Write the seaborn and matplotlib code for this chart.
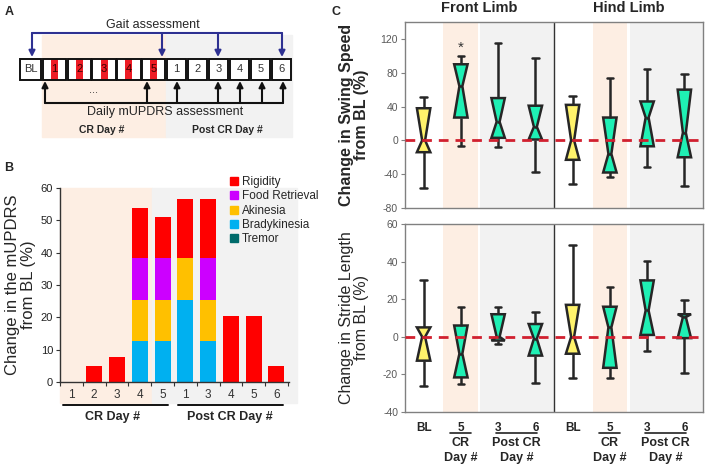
import numpy as np
import pandas as pd
import matplotlib
matplotlib.use("Agg")
import matplotlib.pyplot as plt
import matplotlib.transforms as mtransforms
from matplotlib.patches import Rectangle, PathPatch
from matplotlib.path import Path
from matplotlib.lines import Line2D
import seaborn as sns

sns.set_style("white")
plt.rcParams['font.family'] = ['Liberation Sans', 'DejaVu Sans']
plt.rcParams['axes.unicode_minus'] = False

# ---- panel A (timeline) ----
a_cr_days = ["1", "2", "3", "4", "5"]
a_post_days = ["1", "2", "3", "4", "5", "6"]

# ---- panel B data (change in mUPDRS, %) ----
b_slots = ["CR1", "CR2", "CR3", "CR4", "CR5", "P1", "P3", "P4", "P5", "P6"]
b_day_labels = ["1", "2", "3", "4", "5", "1", "3", "4", "5", "6"]
rigidity = [0, 5.1, 7.7, 15.6, 12.9, 18.4, 18.4, 20.5, 20.5, 5.1]
food_retrieval = [0, 0, 0, 12.8, 12.8, 0, 12.8, 0, 0, 0]
akinesia = [0, 0, 0, 12.8, 12.8, 12.8, 12.8, 0, 0, 0]
bradykinesia = [0, 0, 0, 12.6, 12.6, 25.5, 12.6, 0, 0, 0]
tremor = [0, 0, 0, 0, 0, 0, 0, 0, 0, 0]

# ---- panel C data (box summaries: min, q1, median, q3, max) ----
c_groups = ["F-BL", "F-CR5", "F-P3", "F-P6", "H-BL", "H-CR5", "H-P3", "H-P6"]
c_ticklabels = ["BL", "5", "3", "6", "BL", "5", "3", "6"]

swing_lo = [-56, -7, -8, -37, -52, -43, -31, -54]
swing_q1 = [-14, 27, 3, 1, -23, -38, -7, -20]
swing_med = [0, 64, 22, 16, 0, -16, 27, 9]
swing_q3 = [38, 90, 50, 41, 42, 27, 46, 60]
swing_hi = [51, 100, 115, 98, 52, 74, 84, 78]

stride_lo = [-26, -25, -4, -24.5, -22, -22, -7.5, -19]
stride_q1 = [-12.7, -21.6, -2, -10, -9, -16.5, 1, -0.7]
stride_med = [0, -9, 0, -1, 0, 5, 14, 10.5]
stride_q3 = [5, 6, 12, 6.8, 17, 16, 30, 12]
stride_hi = [30, 16, 16, 13, 49, 26.4, 40.4, 19.5]

yellow = "#fff36b"
teal = "#1ff0b4"
box_colors = dict(zip(c_groups, [yellow, teal, teal, teal, yellow, teal, teal, teal]))

cr_shade = "#fdeee3"
post_shade = "#f2f2f2"
blue = "#2e3192"

W, H = 708, 470


def rect(x0, y0, x1, y1):
    return [x0 / W, 1 - y1 / H, (x1 - x0) / W, (y1 - y0) / H]


fig = plt.figure(figsize=(7.08, 4.70), dpi=100)
ov = fig.add_axes([0, 0, 1, 1])
ov.set_xlim(0, W)
ov.set_ylim(H, 0)
ov.axis("off")

# ================= Panel A =================
ov.text(5, 12, "A", fontsize=9, fontweight="bold", va="center")
ov.text(332, 12, "C", fontsize=9, fontweight="bold", va="center")
ov.text(4, 168, "B", fontsize=9, fontweight="bold", va="center")

ov.add_patch(Rectangle((42, 35), 124, 102, color=cr_shade, zorder=0))
ov.add_patch(Rectangle((166, 35), 126, 102, color=post_shade, zorder=0))

ov.text(153, 25, "Gait assessment", fontsize=9, ha="center", va="center")
ov.plot([32, 282], [33, 33], color=blue, lw=1.5)

box_top, box_bot = 59, 80
# BL box
ov.add_patch(Rectangle((20, box_top), 21, box_bot - box_top, fc="white", ec="#111", lw=1.4, zorder=2))
ov.text(30.5, 69.5, "BL", fontsize=8, ha="center", va="center", color="#333", zorder=3)
cr_edges = np.linspace(42, 166, len(a_cr_days) + 1)
for i, d in enumerate(a_cr_days):
    x0, x1 = cr_edges[i] + 0.7, cr_edges[i + 1] - 0.7
    cx = (x0 + x1) / 2
    ov.add_patch(Rectangle((x0, box_top), x1 - x0, box_bot - box_top, fc="white", ec="none", zorder=1))
    ov.add_patch(Rectangle((cx - 3.5, box_top), 7, box_bot - box_top, fc="#ee1c25", ec="none", zorder=1.5))
    ov.add_patch(Rectangle((x0, box_top), x1 - x0, box_bot - box_top, fill=False, ec="#111", lw=1.4, zorder=2))
    ov.text(cx, 69.5, d, fontsize=8, ha="center", va="center", color="#3a0000", zorder=3)
post_edges = np.linspace(166, 292, len(a_post_days) + 1)
for i, d in enumerate(a_post_days):
    x0, x1 = post_edges[i] + 0.7, post_edges[i + 1] - 0.7
    cx = (x0 + x1) / 2
    ov.add_patch(Rectangle((x0, box_top), x1 - x0, box_bot - box_top, fc="white", ec="#111", lw=1.4, zorder=2))
    ov.text(cx, 69.5, d, fontsize=8, ha="center", va="center", color="#333", zorder=3)

for x in [32, 162, 218, 282]:
    ov.annotate("", xy=(x, 57), xytext=(x, 33),
                arrowprops=dict(arrowstyle="-|>", color=blue, lw=1.5, mutation_scale=9, shrinkA=0, shrinkB=0))
for x in [45, 147, 177, 218, 240, 262, 283]:
    ov.annotate("", xy=(x, 81), xytext=(x, 103),
                arrowprops=dict(arrowstyle="-|>", color="#111", lw=1.5, mutation_scale=9, shrinkA=0, shrinkB=0))
ov.plot([45, 283], [103, 103], color="#111", lw=1.5)
ov.text(93, 90, "...", fontsize=8, ha="center", va="center", color="#333")
ov.text(165, 112, "Daily mUPDRS assessment", fontsize=9, ha="center", va="center")
ov.text(102, 130, "CR Day #", fontsize=7.5, fontweight="bold", ha="center", va="center")
ov.text(227, 130, "Post CR Day #", fontsize=7.5, fontweight="bold", ha="center", va="center")

# ================= Panel B =================
axB = fig.add_axes(rect(60, 188, 289, 382))
axB.set_facecolor("none")
transB = mtransforms.blended_transform_factory(axB.transData, axB.transAxes)
axB.add_patch(Rectangle((-0.5, -0.108), 4.03, 1.108, transform=transB, color=cr_shade, clip_on=False, zorder=0))
axB.add_patch(Rectangle((3.53, -0.108), 6.37, 1.108, transform=transB, color=post_shade, clip_on=False, zorder=0))

layers = [("Tremor", tremor, "#006b6b"), ("Bradykinesia", bradykinesia, "#00b0f0"),
          ("Akinesia", akinesia, "#ffc000"), ("Food Retrieval", food_retrieval, "#cc00ff"),
          ("Rigidity", rigidity, "#ff0000")]
cum = np.cumsum([np.array(v, dtype=float) for _, v, _ in layers], axis=0)
for k in range(len(layers) - 1, -1, -1):
    sns.barplot(x=b_slots, y=cum[k], order=b_slots, color=layers[k][2], saturation=1,
                width=0.7, errorbar=None, linewidth=0, ax=axB, zorder=2)

axB.set_xlim(-0.5, 9.55)
axB.set_ylim(0, 60)
axB.set_yticks(range(0, 61, 10))
axB.set_xticks(range(len(b_slots)), b_day_labels)
axB.set_xticks(np.arange(-0.5, 9.6, 1), minor=True)
axB.tick_params(axis="x", which="major", length=0, pad=5, labelsize=8.5, labelcolor="#333")
axB.tick_params(axis="x", which="minor", length=3, width=0.8, color="#333", direction="out", bottom=True)
axB.tick_params(axis="y", length=3, width=0.8, color="#333", labelsize=8, labelcolor="#222", left=True, pad=2)
for s in ["top", "right"]:
    axB.spines[s].set_visible(False)
for s in ["left", "bottom"]:
    axB.spines[s].set_color("#333")
    axB.spines[s].set_linewidth(1)
axB.set_xlabel("")
axB.set_ylabel("Change in the mUPDRS\nfrom BL (%)", fontsize=12, linespacing=1.1)
axB.yaxis.set_label_coords(-0.105, 0.5)

axB.plot([-0.36, 4.25], [-0.119, -0.119], transform=transB, clip_on=False, color="#111", lw=1.4)
axB.plot([4.68, 9.29], [-0.119, -0.119], transform=transB, clip_on=False, color="#111", lw=1.4)
axB.text(1.79, -0.18, "CR Day #", transform=transB, ha="center", va="center", fontsize=9, fontweight="bold")
axB.text(6.97, -0.18, "Post CR Day #", transform=transB, ha="center", va="center", fontsize=9, fontweight="bold")

handles = [Line2D([], [], marker="s", ls="none", color=c, markersize=6) for _, _, c in layers[::-1]]
labels = [n for n, _, _ in layers[::-1]]
fig.legend(handles, labels, loc="upper left", bbox_to_anchor=(230 / W, 1 - 176 / H), frameon=False,
           fontsize=8.5, handlelength=0.7, handletextpad=0.3, labelspacing=0.2, borderaxespad=0, borderpad=0)


# ================= Panel C =================
def draw_boxes(ax, lo, q1, med, q3, hi):
    vals = np.column_stack([lo, q1, med, q3, hi]).ravel()
    df = pd.DataFrame({"group": np.repeat(c_groups, 5), "value": vals})
    sns.boxplot(data=df, x="group", y="value", hue="group", order=c_groups, hue_order=c_groups,
                palette=box_colors, saturation=1, width=0.36, linewidth=1.8, linecolor="#262626",
                notch=True, whis=(0, 100), legend=False, ax=ax)
    # hourglass-shaped notches that reach the quartiles
    for p in ax.patches:
        if not isinstance(p, PathPatch):
            continue
        v = p.get_path().vertices.copy()
        if len(v) < 11:
            continue
        qa, mv, qb = v[0, 1], v[3, 1], v[5, 1]
        left, right = v[0, 0], v[1, 0]
        pos, half = (left + right) / 2, (right - left) / 2
        v[2, 1] = qa
        v[9, 1] = qa
        v[4, 1] = qb
        v[7, 1] = qb
        v[3, 0] = pos + 0.22 * half
        v[8, 0] = pos - 0.22 * half
        p.set_path(Path(v, p.get_path().codes))
        for ln in ax.lines:
            xd, yd = np.asarray(ln.get_xdata(), float), np.asarray(ln.get_ydata(), float)
            if len(xd) == 2 and np.allclose(yd, mv) and xd.min() >= left - 1e-6 and xd.max() <= right + 1e-6:
                ln.set_xdata([pos - 0.22 * half, pos + 0.22 * half])
    for a, b, c in [(0.52, 1.45, cr_shade), (1.5, 3.5, post_shade), (4.55, 5.45, cr_shade), (5.55, 7.5, post_shade)]:
        ax.axvspan(a, b, color=c, zorder=0, lw=0)
    ax.axvline(3.5, color="#333", lw=1, zorder=1)
    ax.axhline(0, color="#d1202f", lw=2, ls=(0, (3.5, 2.5)), zorder=3)
    ax.set_xlim(-0.5, 7.5)
    ax.set_xlabel("")
    for s in ax.spines.values():
        s.set_color("#808080")
        s.set_linewidth(1)
    ax.tick_params(axis="y", length=3, width=0.8, color="#808080", labelsize=7.5, labelcolor="#595959", left=True, pad=2)


axT = fig.add_axes(rect(405, 22, 703, 208))
draw_boxes(axT, swing_lo, swing_q1, swing_med, swing_q3, swing_hi)
axT.set_ylim(-80, 140)
axT.set_yticks(range(-80, 121, 40))
axT.set_xticks([])
axT.set_ylabel("Change in Swing Speed\nfrom BL (%)", fontsize=11.5, fontweight="bold", linespacing=1.05)
axT.yaxis.set_label_coords(-0.12, 0.5)
axT.text(1, 110, "*", ha="center", va="center", fontsize=11, color="#333")
transT = mtransforms.blended_transform_factory(axT.transData, axT.transAxes)
axT.text(1.5, 1.075, "Front Limb", transform=transT, ha="center", va="center", fontsize=10.5, fontweight="bold")
axT.text(5.5, 1.075, "Hind Limb", transform=transT, ha="center", va="center", fontsize=10.5, fontweight="bold")

axS = fig.add_axes(rect(405, 224, 703, 412))
draw_boxes(axS, stride_lo, stride_q1, stride_med, stride_q3, stride_hi)
axS.set_ylim(-40, 60)
axS.set_yticks(range(-40, 61, 20))
axS.set_xticks(range(len(c_groups)), c_ticklabels)
axS.tick_params(axis="x", length=0, pad=7, labelsize=8.5)
for t in axS.get_xticklabels():
    t.set_fontweight("bold")
axS.set_ylabel("Change in Stride Length\nfrom BL (%)", fontsize=11.5, linespacing=1.05)
axS.yaxis.set_label_coords(-0.12, 0.5)

transS = mtransforms.blended_transform_factory(axS.transData, axS.transAxes)
for cx, hw, txt in [(1, 0.28, "CR\nDay #"), (2.5, 0.55, "Post CR\nDay #"),
                    (5, 0.28, "CR\nDay #"), (6.5, 0.55, "Post CR\nDay #")]:
    axS.plot([cx - hw, cx + hw], [-0.112, -0.112], transform=transS, clip_on=False, color="#222", lw=1.2)
    axS.text(cx, -0.133, txt, transform=transS, ha="center", va="top", fontsize=9,
             fontweight="bold", linespacing=1.3)

fig.savefig("out.png", dpi=100)
